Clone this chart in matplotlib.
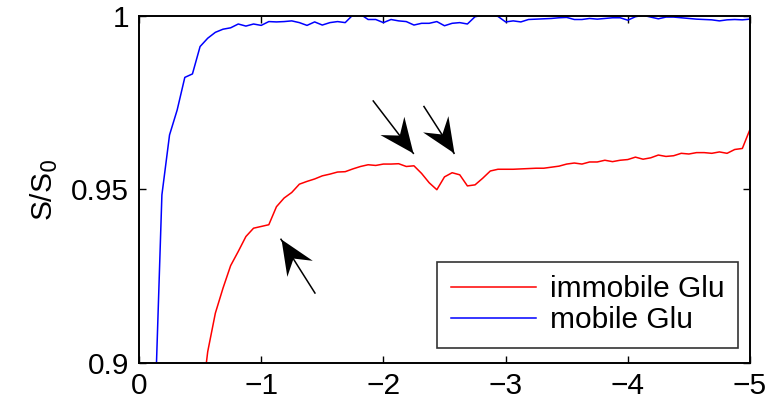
import numpy as np
import matplotlib
matplotlib.use("Agg")
import matplotlib.pyplot as plt
from matplotlib.markers import MarkerStyle
from matplotlib.path import Path
from matplotlib.transforms import Affine2D

plt.rcParams["font.family"] = ["Liberation Sans", "DejaVu Sans"]
plt.rcParams["axes.unicode_minus"] = True

# sampling grid (time step 0.0625, plotted as negative values)
dt = 0.0625
n_samples = 81

# immobile Glu, samples 8..80 (earlier samples fall below the plotted range)
immobile_start = 8
immobile = [
    0.885, 0.9032, 0.9143, 0.9215, 0.9280, 0.9321, 0.9364, 0.9388, 0.9393, 0.9398,
    0.9450, 0.9475, 0.9491, 0.9515, 0.9523, 0.9530, 0.9539, 0.9544, 0.9550, 0.9551,
    0.9559, 0.9566, 0.9571, 0.9569, 0.9573, 0.9573, 0.9574, 0.9566, 0.9568, 0.9546,
    0.9519, 0.9499, 0.9536, 0.9548, 0.9542, 0.9510, 0.9513, 0.9532, 0.9553, 0.9558,
    0.9558, 0.9558, 0.9559, 0.9560, 0.9561, 0.9561, 0.9564, 0.9567, 0.9573, 0.9576,
    0.9573, 0.9579, 0.9579, 0.9584, 0.9580, 0.9584, 0.9586, 0.9593, 0.9587, 0.9591,
    0.9599, 0.9595, 0.9597, 0.9604, 0.9602, 0.9606, 0.9606, 0.9604, 0.9608, 0.9604,
    0.9615, 0.9618, 0.9673,
]

# mobile Glu, samples 2..80
mobile_start = 2
mobile = [
    0.880, 0.9484, 0.9657, 0.9729, 0.9823, 0.9833, 0.9912, 0.9936, 0.9953, 0.9962,
    0.9966, 0.9977, 0.9971, 0.9977, 0.9973, 0.9984, 0.9983, 0.9984, 0.9986, 0.9981,
    0.9973, 0.9983, 0.9974, 0.9981, 0.9984, 0.9981, 1.0003, 1.0005, 0.9990, 0.9990,
    0.9981, 0.9990, 0.9986, 0.9984, 0.9974, 0.9979, 0.9979, 0.9984, 0.9972, 0.9979,
    0.9981, 0.9977, 0.9998, 1.0002, 1.0002, 0.9999, 0.9983, 0.9986, 0.9983, 0.9990,
    0.9991, 0.9992, 0.9993, 0.9995, 0.9996, 0.9990, 0.9990, 0.9993, 0.9991, 0.9993,
    0.9995, 0.9995, 0.9988, 0.9998, 1.0002, 0.9997, 0.9992, 0.9997, 0.9997, 0.9995,
    0.9993, 0.9991, 0.9990, 0.9989, 0.9986, 0.9989, 0.9990, 0.9989, 0.9991,
]

x_ticks = [0, -1, -2, -3, -4, -5]
y_ticks = [0.9, 0.95, 1.0]
y_ticklabels = ["0.9", "0.95", "1"]

# arrows: (tip, tail) in data coordinates
arrows = [
    ((-2.245, 0.9604), (-1.917, 0.9755)),
    ((-2.578, 0.9604), (-2.332, 0.9739)),
    ((-1.162, 0.9356), (-1.440, 0.9201)),
]

FS = 21.5

t = -dt * np.arange(n_samples)

fig = plt.figure(figsize=(7.7, 4.11), dpi=100)
ax = fig.add_axes([0.1805, 0.1175, 0.7935, 0.8435])

ax.plot(t[immobile_start:immobile_start + len(immobile)], immobile,
        color="#ff0000", linewidth=1.1, label="immobile Glu")
ax.plot(t[mobile_start:mobile_start + len(mobile)], mobile,
        color="#0000ff", linewidth=1.1, label="mobile Glu")

ax.set_xlim(0, -5)
ax.set_ylim(0.9, 1.0)
ax.set_xticks(x_ticks)
ax.set_yticks(y_ticks)
ax.set_yticklabels(y_ticklabels)

for side in ax.spines.values():
    side.set_linewidth(1.4)
ax.tick_params(direction="in", length=5, width=1.0, labelsize=FS,
               top=True, right=True, pad=7)

ax.set_ylabel("S/S$_0$", fontsize=FS)
ax.yaxis.set_label_coords(-0.13, 0.5)

# arrow head with a notched back, tip at the origin pointing along +x
head_path = Path([(0, 0), (-30, 13), (-19.5, 0), (-30, -13), (0, 0)],
                 [Path.MOVETO, Path.LINETO, Path.LINETO, Path.LINETO, Path.CLOSEPOLY])

for tip, tail in arrows:
    p_tip = ax.transData.transform(tip)
    p_tail = ax.transData.transform(tail)
    ang = np.degrees(np.arctan2(p_tip[1] - p_tail[1], p_tip[0] - p_tail[0]))
    ax.plot([tail[0], tip[0]], [tail[1], tip[1]], color="black", linewidth=1.1)
    head = MarkerStyle(head_path, transform=Affine2D().rotate_deg(ang))
    ax.plot([tip[0]], [tip[1]], linestyle="none", marker=head, markersize=50,
            color="black", markeredgewidth=0)

leg = ax.legend(loc="lower right", bbox_to_anchor=(0.98, 0.043), fontsize=FS,
                frameon=True, fancybox=False, handlelength=2.85, handletextpad=0.47,
                borderpad=0.45, labelspacing=0.1, borderaxespad=0)
leg.get_frame().set_edgecolor("black")
leg.get_frame().set_linewidth(1.2)

fig.savefig("out.png", dpi=100)
